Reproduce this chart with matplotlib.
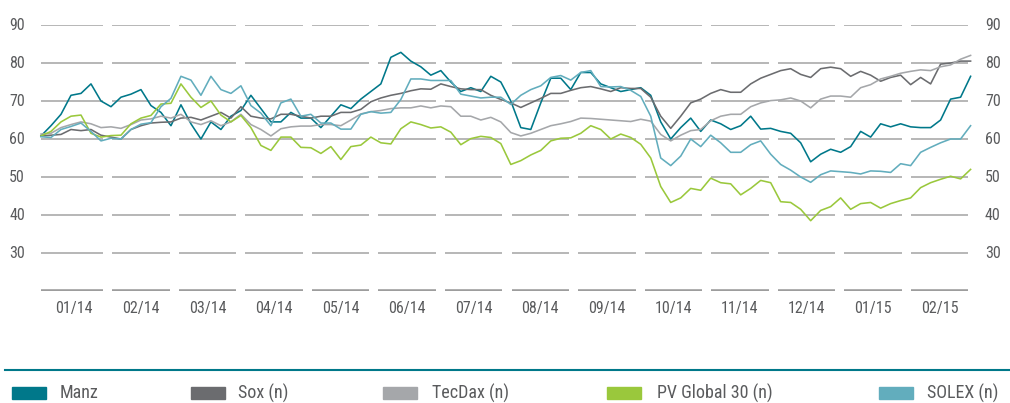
import matplotlib
matplotlib.use("Agg")
import matplotlib.pyplot as plt
import numpy as np
from matplotlib import font_manager
from matplotlib.patches import Rectangle
from matplotlib.lines import Line2D

# month labels along the bottom, y tick values on both sides
months = ["01/14", "02/14", "03/14", "04/14", "05/14", "06/14", "07/14",
          "08/14", "09/14", "10/14", "11/14", "12/14", "01/15", "02/15"]
y_ticks = [30, 40, 50, 60, 70, 80, 90]

# roughly twice-weekly readings, Jan 2014 - Feb 2015
manz = [60.8, 63.5, 66.5, 71.5, 72.0, 74.5, 70.0, 68.5, 71.0, 71.8,
        73.0, 68.8, 67.0, 63.5, 69.0, 64.0, 60.0, 64.5, 62.5, 66.0,
        67.5, 71.5, 68.0, 64.5, 64.5, 67.0, 65.5, 65.5, 63.0, 66.0,
        69.0, 68.0, 70.5, 72.5, 74.5, 81.5, 82.8, 80.5, 79.0, 76.8,
        78.0, 75.0, 72.5, 73.5, 72.5, 76.5, 75.0, 70.0, 63.0, 62.5,
        69.5, 76.0, 76.0, 73.0, 77.5, 77.5, 74.5, 73.5, 72.5, 73.0,
        73.5, 71.5, 64.5, 60.0, 63.0, 65.5, 62.0, 65.0, 64.0, 62.5,
        63.5, 66.0, 62.6, 62.8, 62.0, 61.5, 59.0, 54.0, 56.0, 57.3,
        56.5, 58.0, 62.0, 60.5, 64.0, 63.2, 64.0, 63.2, 63.0, 63.0,
        65.0, 70.5, 71.0, 76.5]
sox = [60.8, 61.0, 61.2, 62.5, 62.2, 62.5, 61.0, 60.5, 60.0, 62.5,
       63.5, 64.2, 64.4, 64.5, 65.5, 65.7, 65.0, 66.0, 67.0, 65.5,
       68.5, 66.0, 65.5, 65.3, 66.5, 66.5, 66.0, 65.5, 66.0, 66.0,
       67.0, 67.0, 67.8, 69.8, 70.8, 71.5, 72.0, 72.7, 73.2, 73.1,
       74.5, 73.8, 73.2, 73.0, 73.0, 71.5, 70.4, 69.5, 68.3, 69.5,
       70.7, 72.0, 72.0, 72.8, 73.5, 73.8, 73.2, 72.5, 73.5, 73.3,
       73.3, 71.0, 66.0, 62.8, 66.0, 69.5, 70.5, 72.0, 73.0, 72.3,
       72.3, 74.5, 76.0, 77.0, 78.0, 78.5, 77.0, 76.2, 78.5, 78.9,
       78.5, 76.5, 77.8, 76.8, 75.2, 76.2, 76.8, 74.3, 76.2, 74.5,
       79.7, 80.0, 80.5, 80.5]
tecdax = [61.3, 61.5, 63.0, 63.8, 64.5, 64.0, 63.0, 63.2, 62.8, 63.8,
          65.0, 65.3, 66.0, 65.5, 66.5, 64.5, 63.8, 64.8, 63.5, 64.5,
          66.5, 63.8, 62.5, 60.8, 62.7, 63.2, 63.4, 63.4, 63.8, 63.8,
          63.5, 65.0, 66.6, 67.2, 67.5, 68.0, 68.2, 68.2, 68.7, 68.2,
          68.7, 68.5, 66.0, 66.0, 65.0, 65.7, 64.5, 61.7, 60.8, 61.5,
          62.5, 63.5, 64.0, 64.6, 65.5, 65.4, 65.2, 65.0, 64.8, 64.6,
          65.2, 64.7, 61.2, 59.5, 61.0, 62.2, 62.5, 64.8, 66.0, 66.5,
          66.5, 68.5, 69.5, 70.1, 70.3, 70.8, 70.0, 68.2, 70.5, 71.3,
          71.3, 71.0, 73.5, 74.3, 75.8, 76.5, 77.3, 77.8, 78.2, 78.0,
          79.0, 79.5, 81.0, 82.0]
pv_global = [60.8, 62.0, 64.5, 66.0, 66.3, 61.5, 60.5, 60.9, 61.0, 64.0,
             65.5, 66.2, 69.2, 69.4, 74.5, 71.0, 68.3, 70.0, 66.3, 64.5,
             66.2, 63.0, 58.3, 57.0, 60.5, 60.5, 57.8, 57.7, 56.2, 58.0,
             54.6, 58.0, 58.4, 60.5, 59.0, 58.7, 62.7, 64.5, 63.8, 62.9,
             63.2, 61.8, 58.5, 60.1, 60.7, 60.4, 58.8, 53.3, 54.3, 55.8,
             57.0, 59.5, 60.2, 60.3, 61.5, 63.5, 62.5, 60.0, 61.3, 60.4,
             58.6, 55.0, 47.5, 43.3, 44.5, 47.0, 46.5, 49.7, 48.5, 48.2,
             45.3, 47.0, 49.1, 48.5, 43.5, 43.3, 41.5, 38.5, 41.2, 42.2,
             44.5, 41.5, 43.0, 43.3, 41.8, 43.0, 43.8, 44.5, 47.2, 48.5,
             49.4, 50.2, 49.5, 52.0]
solex = [60.6, 60.4, 62.5, 63.3, 64.2, 62.0, 59.5, 60.2, 60.0, 62.5,
         63.9, 64.3, 68.5, 70.7, 76.5, 75.5, 71.5, 76.5, 73.0, 72.0,
         74.0, 68.8, 66.8, 63.5, 69.5, 70.5, 66.0, 66.5, 64.2, 64.2,
         62.6, 62.6, 66.5, 67.2, 66.8, 67.0, 70.4, 75.8, 75.8, 75.4,
         75.4, 75.4, 71.8, 71.3, 70.8, 71.0, 71.0, 69.1, 71.5, 73.0,
         74.0, 76.2, 76.7, 75.5, 77.5, 78.0, 73.8, 73.7, 73.8, 72.8,
         71.2, 66.0, 55.0, 53.0, 55.5, 60.0, 58.0, 61.0, 59.0, 56.5,
         56.5, 58.5, 59.5, 56.0, 53.3, 51.8, 50.0, 48.6, 50.6, 51.6,
         51.4, 51.2, 50.8, 51.6, 51.5, 51.2, 53.5, 53.0, 56.5, 57.8,
         59.0, 60.0, 60.0, 63.5]

names = ["Manz", "Sox (n)", "TecDax (n)", "PV Global 30 (n)", "SOLEX (n)"]
colors = ["#00788a", "#6b6c6f", "#a5a7aa", "#9ac83c", "#62adbd"]
grid_color = "#aaaaaa"
text_color = "#5a5b5d"

# the original uses a condensed face; take the narrowest one that is installed
installed = {(f.name, f.stretch) for f in font_manager.fontManager.ttflist}
installed_names = {n for n, _ in installed}
stretch = "normal"
if "Liberation Sans Narrow" in installed_names:
    family = "Liberation Sans Narrow"
elif "Roboto Condensed" in installed_names:
    family = "Roboto Condensed"
elif ("DejaVu Sans", "condensed") in installed:
    family, stretch = "DejaVu Sans", "condensed"
elif "Roboto" in installed_names:
    family = "Roboto"
else:
    family = "Liberation Sans"
plt.rcParams["font.family"] = [family, "DejaVu Sans"]
plt.rcParams["font.stretch"] = stretch

W, H = 1010, 403
fig = plt.figure(figsize=(W / 100, H / 100), dpi=100)
ax = fig.add_axes([41 / W, 1 - 291 / H, (973 - 41) / W, (291 - 25) / H])
ax.set_xlim(0, len(months))
ax.set_ylim(20, 90)
ax.axis("off")

# broken gridlines: one segment per month
starts = np.arange(len(months)) + 0.068
starts[0] = 0
ends = np.arange(len(months)) + 0.932
for v in y_ticks:
    ax.hlines([v] * len(months), starts, ends, color=grid_color, lw=1.2, zorder=1)
    ax.annotate(str(v), xy=(0, v), xycoords=("axes fraction", "data"),
                xytext=(-16, 0), textcoords="offset pixels",
                ha="right", va="center", fontsize=11.5, color=text_color)
    ax.annotate(str(v), xy=(1, v), xycoords=("axes fraction", "data"),
                xytext=(12, 0), textcoords="offset pixels",
                ha="left", va="center", fontsize=11.5, color=text_color)
ax.hlines([20] * len(months), starts, ends, color="#9d9d9d", lw=2.6, zorder=1)

for i, m in enumerate(months):
    ax.annotate(m, xy=(i + 0.5, 20), xytext=(0, -18), textcoords="offset pixels",
                ha="center", va="center", fontsize=11.5, color=text_color)

# series, drawn back to front
x = np.arange(len(manz)) * 10 / 66.6
series = [manz, sox, tecdax, pv_global, solex]
for k in [2, 1, 3, 4, 0]:
    ax.plot(x, series[k], color=colors[k], lw=1.15, zorder=3 + k, clip_on=False)

# legend row under a teal rule
fig.add_artist(Line2D([5 / W, 1], [1 - 370 / H] * 2, color=colors[0], lw=1.5,
                      transform=fig.transFigure))
patch_x = [12, 191, 383, 607, 879]
text_x = [60, 238, 432, 657, 927]
for name, c, px, tx in zip(names, colors, patch_x, text_x):
    fig.add_artist(Rectangle((px / W, 1 - 399 / H), 34 / W, 12 / H, color=c,
                             transform=fig.transFigure))
    t = fig.text(tx / W, 1 - 393 / H, name, ha="left", va="center",
                 fontsize=13, color=text_color)
    # keep the last label inside the canvas
    fig.canvas.draw()
    bb = t.get_window_extent()
    if bb.x1 > W - 3:
        t.set_fontsize(13 * (W - 3 - bb.x0) / bb.width)

fig.savefig("out.png", dpi=100)
